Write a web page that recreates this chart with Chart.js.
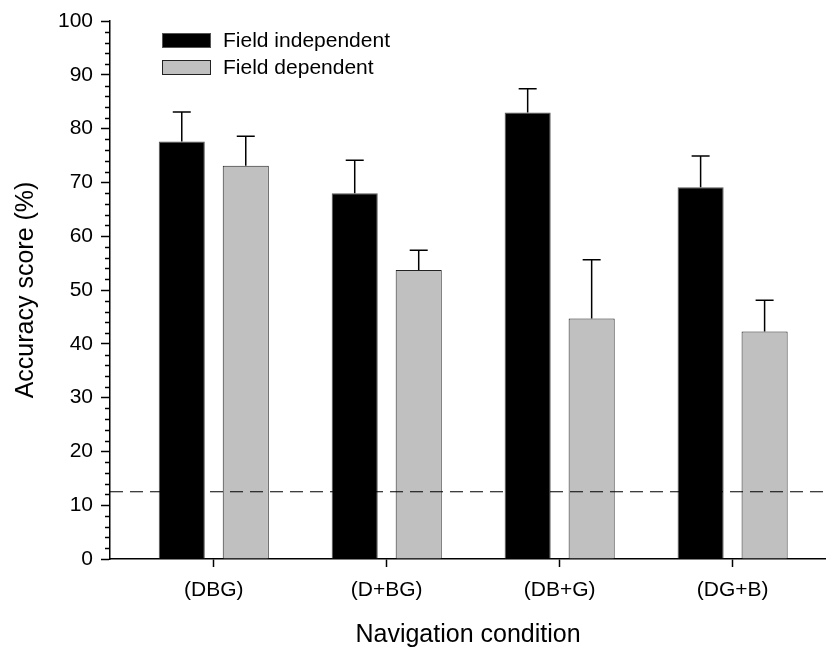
<!DOCTYPE html>
<html>
<head>
<meta charset="utf-8">
<script src="https://cdn.jsdelivr.net/npm/chart.js@4.4.1/dist/chart.umd.min.js"></script>
<style>
  body { margin: 0; background: #fff; }
  canvas { display: block; }
</style>
</head>
<body>
<canvas id="canvas" width="826" height="650"></canvas>
<script>
// data
var conditions = ['(DBG)', '(D+BG)', '(DB+G)', '(DG+B)'];
var independentMean = [77.6, 68.0, 83.0, 69.1];
var independentErr = [5.5, 6.1, 4.4, 5.8];
var dependentMean = [73.1, 53.7, 44.7, 42.3];
var dependentErr = [5.5, 3.7, 10.9, 5.8];
var yTicks = [0, 10, 20, 30, 40, 50, 60, 70, 80, 90, 100];
var chanceLevel = 12.5;

var FONT = '"Liberation Sans", Arial, Helvetica, sans-serif';
Chart.defaults.font.family = FONT;
Chart.defaults.color = '#000';

function toPoints(vals) {
    return vals.map(function (v, i) { return { x: i, y: v }; });
}

var extras = {
    id: 'extras',
    afterDatasetsDraw: function (chart) {
        var ctx = chart.ctx;
        var y = chart.scales.y;
        var area = chart.chartArea;
        ctx.save();
        ctx.strokeStyle = '#000';
        ctx.lineWidth = 1.5;
        // upper error bars
        chart.data.datasets.forEach(function (ds, di) {
            var meta = chart.getDatasetMeta(di);
            meta.data.forEach(function (bar, i) {
                var top = y.getPixelForValue(ds.data[i].y + ds.errors[i]);
                ctx.beginPath();
                ctx.moveTo(bar.x, bar.y);
                ctx.lineTo(bar.x, top);
                ctx.moveTo(bar.x - 9, top);
                ctx.lineTo(bar.x + 9, top);
                ctx.stroke();
            });
        });
        // chance level
        var cy = y.getPixelForValue(chanceLevel);
        ctx.lineWidth = 1.2;
        ctx.setLineDash([13, 7]);
        ctx.beginPath();
        ctx.moveTo(area.left, cy);
        ctx.lineTo(area.right, cy);
        ctx.stroke();
        ctx.restore();
    },
    afterDraw: function (chart) {
        var ctx = chart.ctx;
        var y = chart.scales.y;
        var left = chart.chartArea.left;
        ctx.save();
        // minor ticks
        ctx.strokeStyle = '#000';
        ctx.lineWidth = 1.5;
        for (var v = 0; v <= 100; v += 2) {
            if (v % 10 === 0) continue;
            var py = Math.round(y.getPixelForValue(v)) + 0.5;
            ctx.beginPath();
            ctx.moveTo(left - 5, py);
            ctx.lineTo(left, py);
            ctx.stroke();
        }
        // legend
        ctx.font = '21px ' + FONT;
        ctx.textBaseline = 'middle';
        ctx.textAlign = 'left';
        chart.data.datasets.forEach(function (ds, i) {
            var by = 33 + i * 27;
            ctx.fillStyle = ds.backgroundColor;
            ctx.fillRect(162, by, 49, 15);
            ctx.lineWidth = 1;
            ctx.strokeStyle = ds.borderColor;
            ctx.strokeRect(162.5, by + 0.5, 48, 14);
            ctx.fillStyle = '#000';
            ctx.fillText(ds.label, 223, by + 8);
        });
        ctx.restore();
    }
};

new Chart(document.getElementById('canvas'), {
    type: 'bar',
    data: {
        datasets: [{
            label: 'Field independent',
            data: toPoints(independentMean),
            errors: independentErr,
            backgroundColor: '#000000',
            borderColor: '#555555',
            borderWidth: 1
        }, {
            label: 'Field dependent',
            data: toPoints(dependentMean),
            errors: dependentErr,
            backgroundColor: '#c0c0c0',
            borderColor: '#222222',
            borderWidth: 1
        }]
    },
    options: {
        responsive: false,
        animation: false,
        categoryPercentage: 0.74,
        barPercentage: 0.72,
        layout: { padding: { top: 21, right: 0, bottom: 0, left: 0 } },
        plugins: { legend: { display: false }, tooltip: { enabled: false } },
        scales: {
            x: {
                type: 'linear',
                min: -0.6,
                max: 3.54,
                offset: false,
                afterBuildTicks: function (s) {
                    s.ticks = conditions.map(function (c, i) { return { value: i }; });
                },
                afterFit: function (s) { s.height = 91; },
                ticks: {
                    callback: function (v) { return conditions[v]; },
                    font: { size: 21 },
                    padding: 11,
                    maxRotation: 0,
                    autoSkip: false
                },
                grid: { offset: false, drawOnChartArea: false, tickLength: 8, tickColor: '#000', tickWidth: 1.5 },
                border: { color: '#000', width: 1.5 },
                title: { display: true, text: 'Navigation condition', font: { size: 25 }, padding: { top: 0, bottom: 0 } }
            },
            y: {
                min: 0,
                max: 100,
                afterBuildTicks: function (s) {
                    s.ticks = yTicks.map(function (v) { return { value: v }; });
                },
                afterFit: function (s) { s.width = 110; },
                ticks: { font: { size: 21 }, padding: 8 },
                grid: { drawOnChartArea: false, tickLength: 9, tickColor: '#000', tickWidth: 1.5 },
                border: { color: '#000', width: 1.5 },
                title: { display: true, text: 'Accuracy score (%)', font: { size: 25 }, padding: { top: 11, bottom: 0 } }
            }
        }
    },
    plugins: [extras]
});
</script>
</body>
</html>
